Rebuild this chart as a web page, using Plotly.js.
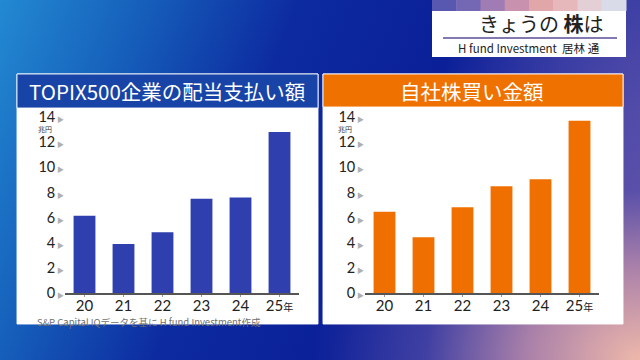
<!DOCTYPE html>
<html>
<head>
<meta charset="utf-8">
<script src="https://cdn.plot.ly/plotly-3.0.1.min.js"></script>
<style>
  html, body { margin: 0; padding: 0; width: 640px; height: 360px; overflow: hidden; }
  #bg {
    position: absolute; left: 0; top: 0; width: 640px; height: 360px;
    background:
      radial-gradient(ellipse 330px 260px at 100% 100%, rgba(238,184,170,1) 0%, rgba(190,140,170,0.85) 35%, rgba(110,90,170,0.45) 65%, rgba(60,60,170,0) 100%),
      radial-gradient(ellipse 200px 260px at 100% 30%, rgba(90,80,170,0.8) 0%, rgba(60,60,170,0) 100%),
      linear-gradient(112deg, #2389d2 0%, #1660bb 18%, #0d2ba0 38%, #0a1f98 60%, #2a35a2 85%, #4a4aa8 100%);
  }
  #chart { position: absolute; left: 0; top: 0; width: 640px; height: 360px; }
</style>
</head>
<body>
<div id="bg"></div>
<div id="chart"></div>
<script>
// ---- data ----
const years = ['20', '21', '22', '23', '24', '25'];
const yearLabels = ['20', '21', '22', '23', '24', '25<span style="font-size:10px">年</span>'];
const dividends = [6.15, 3.9, 4.83, 7.5, 7.6, 12.8];   // 兆円
const buybacks = [6.47, 4.43, 6.82, 8.5, 9.05, 13.7];  // 兆円
const yTickVals = [0, 2, 4, 6, 8, 10, 12, 14];
const leftTitle = 'TOPIX500企業の配当支払い額';
const rightTitle = '自社株買い金額';
const unitLabel = '兆円';
const sourceNote = 'S&P Capital IQデータを基に H fund Investment作成';
const boxTitle = 'きょうの <b>株</b>は';
const boxSub = 'H fund Investment  居林 通';

// ---- helpers ----
const W = 640, H = 360;
const px = x => x / W;
const py = y => 1 - y / H;
const FONT = '"Noto Sans CJK JP", "Noto Sans", sans-serif';
const NUMFONT = 'Lato, "Noto Sans CJK JP", sans-serif';
const yTickText = yTickVals.map(v => v + '<span style="font-size:7px;color:#b0b0b0"> ▶</span>');

function rect(x0, y0, x1, y1, fill, line, lw) {
  return { type: 'rect', xref: 'paper', yref: 'paper', x0: px(x0), x1: px(x1), y0: py(y1), y1: py(y0),
    fillcolor: fill, line: { color: line || fill, width: lw || 0 }, layer: 'below' };
}

const shapes = [];
// top right info box
shapes.push(rect(432, -4, 626, 57, '#ffffff', '#ffffff', 0));
const strip = ['#5858b0', '#7468b4', '#a07cb4', '#c892ae', '#e0a6aa', '#e6b8bc', '#e4cfd6', '#dadbe8'];
strip.forEach((c, i) => {
  const w = (626 - 432) / strip.length;
  shapes.push(rect(432 + i * w, -4, 432 + (i + 1) * w + 0.5, 11, c, c, 0));
});
shapes.push({ type: 'line', xref: 'paper', yref: 'paper', x0: px(443), x1: px(617), y0: py(38), y1: py(38),
  line: { color: '#5a4c9c', width: 1.5 } });
// panels
shapes.push(rect(17, 74, 318, 324, '#ffffff', 'rgba(255,255,255,0.9)', 1));
shapes.push(rect(17, 74, 318, 108, '#1744a6', 'rgba(255,255,255,0.85)', 1));
shapes.push(rect(323, 74, 623, 324, '#ffffff', 'rgba(255,255,255,0.9)', 1));
shapes.push(rect(323, 74, 623, 107, '#ef7100', 'rgba(255,255,255,0.85)', 1));

const annotations = [
  { text: leftTitle, x: px(167), y: py(91), xref: 'paper', yref: 'paper', showarrow: false,
    font: { family: FONT, size: 20.5, color: '#ffffff' }, xanchor: 'center', yanchor: 'middle' },
  { text: rightTitle, x: px(472), y: py(91), xref: 'paper', yref: 'paper', showarrow: false,
    font: { family: FONT, size: 20.5, color: '#ffffff' }, xanchor: 'center', yanchor: 'middle' },
  { text: unitLabel, x: px(45), y: py(129), xref: 'paper', yref: 'paper', showarrow: false,
    font: { family: FONT, size: 7, color: '#333333' }, xanchor: 'center', yanchor: 'middle', borderpad: 0 },
  { text: unitLabel, x: px(345), y: py(129), xref: 'paper', yref: 'paper', showarrow: false,
    font: { family: FONT, size: 7, color: '#333333' }, xanchor: 'center', yanchor: 'middle', borderpad: 0 },
  { text: sourceNote, x: px(35), y: py(322), xref: 'paper', yref: 'paper', showarrow: false,
    font: { family: FONT, size: 9.5, color: '#707070' }, xanchor: 'left', yanchor: 'middle' },
  { text: boxTitle, x: px(541), y: py(24), xref: 'paper', yref: 'paper', showarrow: false,
    font: { family: FONT, size: 20, color: '#222222' }, xanchor: 'center', yanchor: 'middle' },
  { text: boxSub, x: px(529), y: py(48), xref: 'paper', yref: 'paper', showarrow: false,
    font: { family: FONT, size: 11.5, color: '#222222' }, xanchor: 'center', yanchor: 'middle' }
];

const yDomain = [py(293), py(117)];
const xAxisCommon = {
  type: 'category', range: [-0.5, 5.5], showgrid: false, zeroline: false,
  showline: true, linecolor: '#555555', linewidth: 1.5,
  ticks: 'outside', ticklen: 2, tickcolor: '#999999', ticklabelstandoff: -4,
  tickvals: years, ticktext: yearLabels,
  tickfont: { family: NUMFONT, size: 15, color: '#222222' }, fixedrange: true
};
const yAxisCommon = {
  range: [0, 14], showgrid: false, zeroline: false, showline: false, ticks: '',
  tickvals: yTickVals, ticktext: yTickText, domain: yDomain,
  tickfont: { family: NUMFONT, size: 14.5, color: '#222222' }, fixedrange: true
};

const data = [
  { type: 'bar', x: years, y: dividends, xaxis: 'x', yaxis: 'y', width: 0.56,
    marker: { color: '#2f3fae' }, hoverinfo: 'skip' },
  { type: 'bar', x: years, y: buybacks, xaxis: 'x2', yaxis: 'y2', width: 0.56,
    marker: { color: '#ef7000' }, hoverinfo: 'skip' }
];

const layout = {
  width: W, height: H, margin: { l: 0, r: 0, t: 0, b: 0 },
  paper_bgcolor: 'rgba(0,0,0,0)', plot_bgcolor: 'rgba(0,0,0,0)',
  showlegend: false,
  xaxis: Object.assign({}, xAxisCommon, { domain: [px(65), px(299)], anchor: 'y' }),
  yaxis: Object.assign({}, yAxisCommon, { anchor: 'x' }),
  xaxis2: Object.assign({}, xAxisCommon, { domain: [px(365), px(599)], anchor: 'y2' }),
  yaxis2: Object.assign({}, yAxisCommon, { anchor: 'x2' }),
  shapes: shapes, annotations: annotations
};

Plotly.newPlot('chart', data, layout, { displayModeBar: false, staticPlot: true });
</script>
</body>
</html>
